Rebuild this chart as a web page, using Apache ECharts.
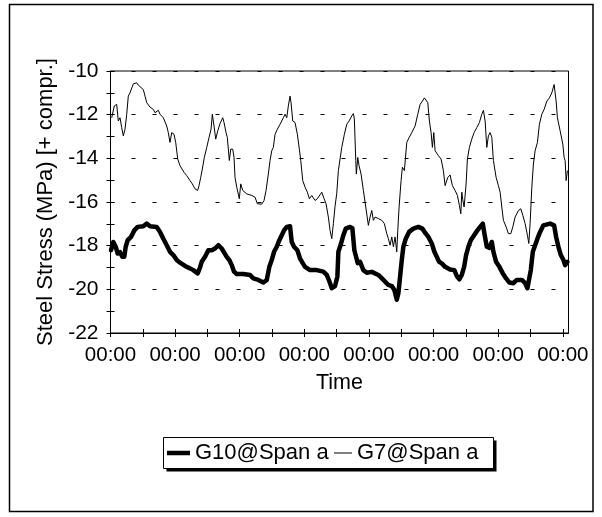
<!DOCTYPE html>
<html><head><meta charset="utf-8">
<script src="https://cdn.jsdelivr.net/npm/echarts@6/dist/echarts.min.js"></script>
<style>html,body{margin:0;padding:0;background:#fff}#c{width:602px;height:517px}</style>
</head><body><div id="c"></div>
<script>
// x = elapsed time in hours, y = steel stress in MPa
const g10Hours = [0.19,1.04,1.93,2.67,3.53,4.38,5.13,5.65,6.39,7.62,8.84,10.1,12.19,13.45,14.67,17.16,18.39,19.62,20.88,22.1,23.33,24.59,25.82,27.68,29.53,30.76,32.39,33.25,33.88,35.11,36.33,37.6,38.82,40.05,41.31,41.9,43.17,44.13,45.02,45.88,46.88,49.34,51.82,53.05,54.91,56.77,58.03,58.99,59.89,60.74,61.74,62.71,63.6,64.46,65.46,66.68,67.31,68.17,69.4,70.4,71.4,72.26,74.11,76.6,79.05,80.32,81.28,82.18,83.4,84.26,84.63,85.63,86.49,87.38,88.97,89.83,90.57,91.2,91.83,92.69,93.92,95.18,97.04,99.49,101.35,103.2,104.47,105.43,106.32,106.92,107.55,108.18,108.77,109.67,110.89,112.49,114.35,115.83,117.1,118.06,119.33,120.29,121.18,122.04,123.04,124.27,126.12,127.72,128.61,129.58,130.47,131.33,132.07,132.92,133.81,135.04,136.27,137.27,138.27,138.87,139.76,140.73,141.62,142.21,143.21,144.44,145.7,146.93,148.15,149.64,150.9,152.76,153.99,154.84,155.58,156.1,156.85,157.7,158.56,159.56,160.78,163.27,164.76,165.5,166.36,167.25,168.22,168.85,169.7];
const g10Values = [-18.21,-17.83,-18.05,-18.36,-18.3,-18.51,-18.51,-18.05,-17.75,-17.6,-17.3,-17.14,-17.11,-16.99,-17.11,-17.14,-17.37,-17.68,-17.98,-18.28,-18.43,-18.66,-18.78,-18.93,-19.04,-19.12,-19.27,-19.0,-18.74,-18.51,-18.21,-18.21,-18.13,-17.98,-18.13,-18.21,-18.51,-18.66,-18.89,-19.19,-19.3,-19.3,-19.34,-19.5,-19.57,-19.69,-19.57,-18.97,-18.66,-18.28,-18.05,-17.75,-17.52,-17.3,-17.14,-17.11,-17.83,-18.05,-18.21,-18.59,-18.8,-18.97,-19.12,-19.12,-19.19,-19.34,-19.63,-19.95,-19.85,-19.42,-18.28,-17.9,-17.52,-17.22,-17.14,-17.2,-18.21,-18.51,-18.8,-18.74,-19.12,-19.24,-19.2,-19.34,-19.57,-19.8,-19.85,-20.03,-20.48,-20.18,-19.42,-18.66,-18.05,-17.68,-17.37,-17.22,-17.14,-17.22,-17.45,-17.6,-17.9,-18.28,-18.51,-18.74,-18.81,-18.97,-19.09,-19.12,-19.39,-19.54,-19.34,-18.97,-18.43,-18.05,-17.75,-17.52,-17.3,-17.14,-16.99,-17.45,-18.05,-18.1,-17.83,-18.28,-18.74,-18.97,-19.27,-19.5,-19.69,-19.72,-19.57,-19.57,-19.72,-19.95,-20.03,-19.12,-18.28,-17.98,-17.68,-17.37,-17.07,-16.99,-17.07,-17.6,-18.05,-18.43,-18.66,-18.89,-18.74];
const g7Hours = [0.45,1.41,2.3,2.9,3.53,4.16,4.76,5.39,6.02,6.61,7.24,7.88,8.47,9.73,10.33,10.96,12.19,12.82,13.45,14.67,15.9,16.53,17.76,18.39,19.62,20.88,21.47,22.1,22.74,23.59,24.22,24.96,25.82,26.45,27.31,28.31,29.53,30.39,31.39,32.39,32.88,33.51,34.1,34.85,35.74,36.59,37.34,37.82,38.45,39.08,39.83,40.7,41.68,42.17,42.91,43.39,44.13,44.65,45.4,45.88,46.25,46.88,47.48,47.85,48.37,49.11,50.6,52.45,53.68,54.54,56.17,57.03,57.77,58.62,59.25,59.89,60.48,61.11,61.97,62.97,64.2,64.83,65.46,66.05,66.68,67.05,67.69,68.54,69.4,70.14,70.66,71.4,72.26,73.11,73.86,74.75,75.97,76.83,77.57,78.46,79.32,80.06,80.91,81.54,82.18,82.77,83.4,84.03,84.63,85.26,85.89,86.86,87.75,88.6,89.61,90.2,90.57,91.09,91.31,91.83,92.32,93.06,93.92,94.81,95.77,96.4,97.04,97.63,98.26,99.49,100.75,101.72,102.61,103.2,103.83,104.47,105.06,105.69,106.32,106.7,107.18,107.92,108.4,109.15,110.04,110.89,111.9,113.12,114.12,114.98,115.83,116.58,117.21,117.84,118.43,119.07,119.55,120.07,120.55,121.78,122.78,123.63,124.27,125.27,126.12,126.98,127.98,128.84,129.58,130.1,130.47,130.84,131.33,132.07,132.55,133.29,134.18,135.04,136.04,137.01,137.9,138.5,139.13,139.76,140.35,140.98,141.62,142.21,143.21,144.07,144.7,145.33,145.93,146.93,147.78,148.67,149.42,150.27,151.5,152.39,153.13,153.99,154.84,155.36,155.84,156.48,157.07,157.7,158.56,159.3,160.19,161.05,162.05,163.01,163.9,164.76,165.5,165.98,166.99,167.99,168.47,168.85,169.22,169.7];
const g7Values = [-12.14,-11.6,-11.53,-12.29,-12.14,-12.59,-12.97,-12.67,-11.98,-11.15,-11.0,-10.92,-10.59,-10.54,-10.65,-10.62,-10.85,-11.15,-11.45,-11.65,-11.76,-11.91,-11.8,-11.98,-12.14,-12.52,-12.82,-13.27,-12.82,-12.9,-13.27,-14.03,-14.34,-14.41,-14.64,-14.79,-15.02,-15.17,-15.4,-15.47,-15.25,-14.87,-14.49,-13.96,-13.5,-13.05,-12.67,-11.98,-12.52,-13.12,-12.74,-12.4,-12.14,-12.36,-12.82,-13.05,-14.1,-13.58,-13.58,-13.96,-14.87,-15.32,-15.4,-15.85,-15.17,-15.47,-15.63,-15.7,-15.78,-16.08,-16.1,-15.93,-15.47,-14.72,-14.1,-13.65,-13.5,-12.9,-12.67,-12.44,-12.14,-11.98,-12.14,-11.6,-11.15,-11.45,-12.29,-12.36,-12.9,-13.58,-14.1,-15.02,-15.32,-15.55,-15.85,-15.7,-15.93,-15.85,-15.78,-15.55,-15.85,-16.08,-16.69,-17.3,-17.68,-16.99,-16.2,-15.6,-14.56,-14.03,-13.5,-12.9,-12.44,-12.29,-12.06,-11.95,-12.2,-14.1,-14.72,-13.96,-14.34,-14.72,-15.47,-16.23,-17.07,-16.69,-16.39,-16.84,-16.69,-16.76,-16.84,-16.99,-17.45,-17.68,-17.98,-17.6,-18.05,-17.6,-18.28,-17.3,-16.23,-15.02,-14.41,-14.56,-13.27,-13.05,-12.82,-12.52,-11.98,-11.53,-11.38,-11.23,-11.15,-11.45,-12.29,-12.82,-13.5,-12.82,-13.65,-13.88,-14.03,-14.56,-15.25,-14.87,-14.76,-15.25,-15.47,-15.7,-16.16,-16.54,-15.55,-15.9,-16.23,-15.17,-14.03,-13.5,-13.12,-12.82,-12.59,-12.36,-11.98,-11.8,-12.29,-13.5,-12.97,-12.82,-13.05,-14.1,-14.87,-15.25,-15.55,-16.23,-16.84,-17.14,-17.45,-17.45,-17.14,-16.69,-16.39,-16.31,-16.61,-16.99,-17.52,-17.9,-16.99,-15.32,-14.26,-13.65,-13.27,-12.44,-11.98,-11.76,-11.38,-11.23,-11.0,-10.62,-11.38,-12.14,-12.74,-13.35,-13.96,-14.1,-15.02,-14.56];
const xTickLabel = '00:00';
const seriesNames = ['G10@Span a', 'G7@Span a'];
const xTitle = 'Time';
const yTitle = 'Steel Stress (MPa) [+ compr.]';

const FONT = 'Liberation Sans, Arial, Helvetica, sans-serif';
const zip = (a, b) => a.map((v, i) => [v, b[i]]);
const chart = echarts.init(document.getElementById('c'), null, {renderer: 'canvas'});
const X_MAX = 170.1;
const baseX = {type: 'value', min: 0, max: X_MAX, interval: 12, position: 'bottom', gridIndex: 0,
  splitLine: {show: false}};
const baseY = {type: 'value', min: -22, max: -10, interval: 2, position: 'left', gridIndex: 0};
const legText = {fontSize: 22, color: '#000', fontFamily: FONT};
const BOX = {x: 163.5, y: 437.5, w: 330, h: 31};
chart.setOption({
  animation: false,
  backgroundColor: '#fff',
  textStyle: {fontFamily: FONT},
  graphic: [
    {type: 'rect', shape: {x: 9.5, y: 4.5, width: 583.5, height: 507}, style: {fill: 'none', stroke: '#000', lineWidth: 1.5}, z: -1},
    {type: 'rect', shape: {x: BOX.x + 3, y: BOX.y + 3, width: BOX.w, height: BOX.h}, style: {fill: '#000', stroke: null}, z: 1},
    {type: 'rect', shape: {x: BOX.x, y: BOX.y, width: BOX.w, height: BOX.h}, style: {fill: '#fff', stroke: '#000', lineWidth: 1}, z: 2}
  ],
  grid: {left: 110.5, top: 71, right: 33.5, bottom: 184, show: true, borderColor: '#000', borderWidth: 1, containLabel: false},
  legend: [
    {data: [{name: seriesNames[0], icon: 'rect'}], left: BOX.x + 3.5, top: BOX.y + BOX.h / 2 - 11, padding: 0, z: 10,
      itemWidth: 23, itemHeight: 4.5, itemGap: 0, textStyle: legText, selectedMode: false},
    {data: [{name: seriesNames[1], icon: 'rect'}], left: BOX.x + 170.5, top: BOX.y + BOX.h / 2 - 11, padding: 0, z: 10,
      itemWidth: 18, itemHeight: 1, itemGap: 0, textStyle: legText, selectedMode: false}
  ],
  xAxis: [
    Object.assign({}, baseX, {
      axisLine: {show: true, lineStyle: {color: '#000', width: 1}},
      axisTick: {show: true, inside: false, length: 4, lineStyle: {color: '#000'}},
      axisLabel: {show: true, color: '#000', fontSize: 20.5, fontFamily: FONT, margin: 12,
        formatter: v => (Math.abs(v % 24) < 1e-6 ? xTickLabel : ''), showMaxLabel: false},
      name: xTitle, nameLocation: 'middle', nameGap: 39,
      nameTextStyle: {color: '#000', fontSize: 21.5, fontFamily: FONT}
    }),
    Object.assign({}, baseX, {
      axisLine: {show: false},
      axisTick: {show: true, inside: true, length: 4, lineStyle: {color: '#000'}},
      axisLabel: {show: false}
    })
  ],
  yAxis: [
    Object.assign({}, baseY, {
      axisLine: {show: true, lineStyle: {color: '#000', width: 1}},
      axisTick: {show: true, inside: false, length: 4, lineStyle: {color: '#000'}},
      minorTick: {show: true, splitNumber: 2, length: 4, lineStyle: {color: '#000'}},
      axisLabel: {color: '#000', fontSize: 21, fontFamily: FONT, margin: 12},
      splitLine: {show: true, lineStyle: {color: '#000', width: 1, type: [4, 17]}},
      name: yTitle, nameLocation: 'middle', nameGap: 42, nameRotate: 90,
      nameTextStyle: {color: '#000', fontSize: 22, fontFamily: FONT}
    }),
    Object.assign({}, baseY, {
      axisLine: {show: false},
      axisTick: {show: true, inside: true, length: 4, lineStyle: {color: '#000'}},
      minorTick: {show: true, splitNumber: 2, length: 4, lineStyle: {color: '#000'}},
      axisLabel: {show: false},
      splitLine: {show: false}
    })
  ],
  series: [
    {name: seriesNames[0], type: 'line', xAxisIndex: 0, yAxisIndex: 0, data: zip(g10Hours, g10Values),
      symbol: 'none', lineStyle: {color: '#000', width: 4.5, join: 'round', cap: 'round'}, itemStyle: {color: '#000'}, z: 3},
    {name: seriesNames[1], type: 'line', xAxisIndex: 0, yAxisIndex: 0, data: zip(g7Hours, g7Values),
      symbol: 'none', lineStyle: {color: '#000', width: 1}, itemStyle: {color: '#000'}, z: 2}
  ]
});
</script></body></html>
